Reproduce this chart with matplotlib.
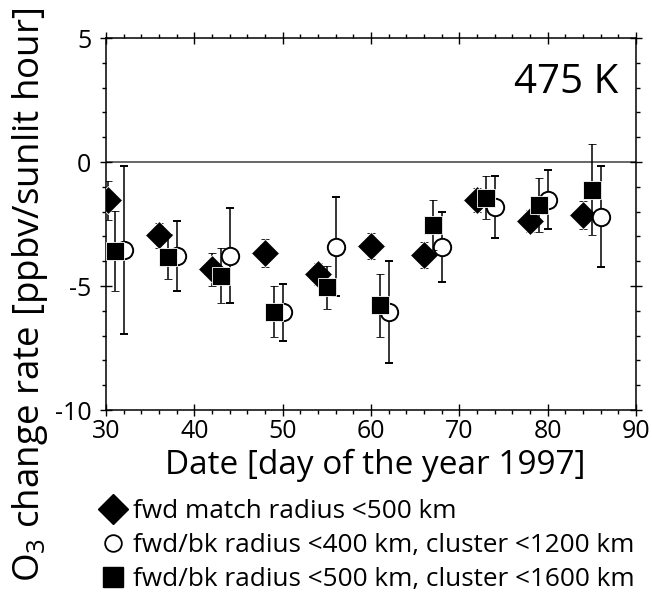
import matplotlib
matplotlib.use("Agg")
import matplotlib.pyplot as plt
from matplotlib.lines import Line2D
from matplotlib.ticker import MultipleLocator

plt.rcParams['font.family'] = ['Open Sans', 'DejaVu Sans']
plt.rcParams['mathtext.fontset'] = 'custom'
plt.rcParams['mathtext.rm'] = 'Open Sans'
plt.rcParams['mathtext.it'] = 'Open Sans'
plt.rcParams['axes.unicode_minus'] = False

# fwd match radius <500 km (diamonds)
day_fwd = [30.2, 36, 42, 48, 54, 60, 66, 72, 78, 84]
rate_fwd = [-1.55, -2.95, -4.33, -3.66, -4.52, -3.39, -3.75, -1.53, -2.37, -2.14]
err_fwd = [0.8, 0.5, 0.65, 0.57, 0.45, 0.54, 0.52, 0.47, 0.45, 0.58]

# fwd/bk radius <400 km, cluster <1200 km (open circles)
day_c400 = [32, 38, 44, 50, 56, 62, 68, 74, 80, 86]
rate_c400 = [-3.55, -3.8, -3.77, -6.05, -3.42, -6.05, -3.42, -1.82, -1.52, -2.2]
err_c400 = [3.4, 1.42, 1.9, 1.15, 2.0, 2.05, 1.41, 1.26, 1.2, 2.04]

# fwd/bk radius <500 km, cluster <1600 km (filled squares)
day_c500 = [31, 37, 43, 49, 55, 61, 67, 73, 79, 85]
rate_c500 = [-3.58, -3.82, -4.58, -6.03, -5.05, -5.78, -2.54, -1.44, -1.74, -1.12]
err_c500 = [1.62, 0.9, 1.1, 1.02, 0.87, 1.28, 1.0, 0.87, 1.1, 1.83]

labels = ["fwd match radius <500 km",
          "fwd/bk radius <400 km, cluster <1200 km",
          "fwd/bk radius <500 km, cluster <1600 km"]

fig = plt.figure(figsize=(6.52, 5.95), dpi=100)
ax = fig.add_axes([0.1626, 0.3109, 0.8129, 0.6252])

ax.axhline(0, color='0.3', lw=1.2, zorder=1)

ekw = dict(ecolor='black', elinewidth=1.1, capsize=3.2, capthick=1.1, ls='none')
ax.errorbar(day_fwd, rate_fwd, yerr=err_fwd, marker='D', ms=14.5, mfc='black',
            mec='white', mew=0.6, zorder=3, **ekw)
ax.errorbar(day_c400, rate_c400, yerr=err_c400, marker='o', ms=12.5, mfc='white',
            mec='black', mew=1.4, zorder=4, **ekw)
ax.errorbar(day_c500, rate_c500, yerr=err_c500, marker='s', ms=13, mfc='black',
            mec='white', mew=0.6, zorder=5, **ekw)

ax.set_xlim(30, 90)
ax.set_ylim(-10, 5)
ax.xaxis.set_major_locator(MultipleLocator(10))
ax.xaxis.set_minor_locator(MultipleLocator(2))
ax.yaxis.set_major_locator(MultipleLocator(5))
ax.yaxis.set_minor_locator(MultipleLocator(1))
ax.tick_params(which='major', direction='inout', length=9, width=1.0,
               top=True, right=True, labelsize=18)
ax.tick_params(axis='x', which='major', pad=2)
ax.tick_params(axis='y', which='major', pad=6)
ax.tick_params(which='minor', direction='out', length=3, width=1.0,
               top=True, right=True)
for s in ax.spines.values():
    s.set_linewidth(1.1)

ax.text(618/652, 1 - 93/595, "475 K", transform=fig.transFigure, ha='right',
        va='baseline', fontsize=29)

fig.text(375/652, 1 - 465/595, "Date [day of the year 1997]", ha='center',
         va='center', fontsize=24)
fig.text(30/652, 1 - 295/595, r"O$_3$ change rate [ppbv/sunlit hour]",
         rotation=90, ha='center', va='center', fontsize=26.5)

handles = [
    Line2D([], [], ls='none', marker='D', ms=15, mfc='black', mec='black'),
    Line2D([], [], ls='none', marker='o', ms=12, mfc='white', mec='black', mew=1.3),
    Line2D([], [], ls='none', marker='s', ms=14, mfc='black', mec='black'),
]
fig.legend(handles, labels, loc='upper left', bbox_to_anchor=(100/652, 1 - 499/595),
           frameon=False, fontsize=18.8, handlelength=1.0, handletextpad=0.25,
           labelspacing=0.34, borderpad=0, borderaxespad=0)

fig.savefig("out.png", dpi=100)
